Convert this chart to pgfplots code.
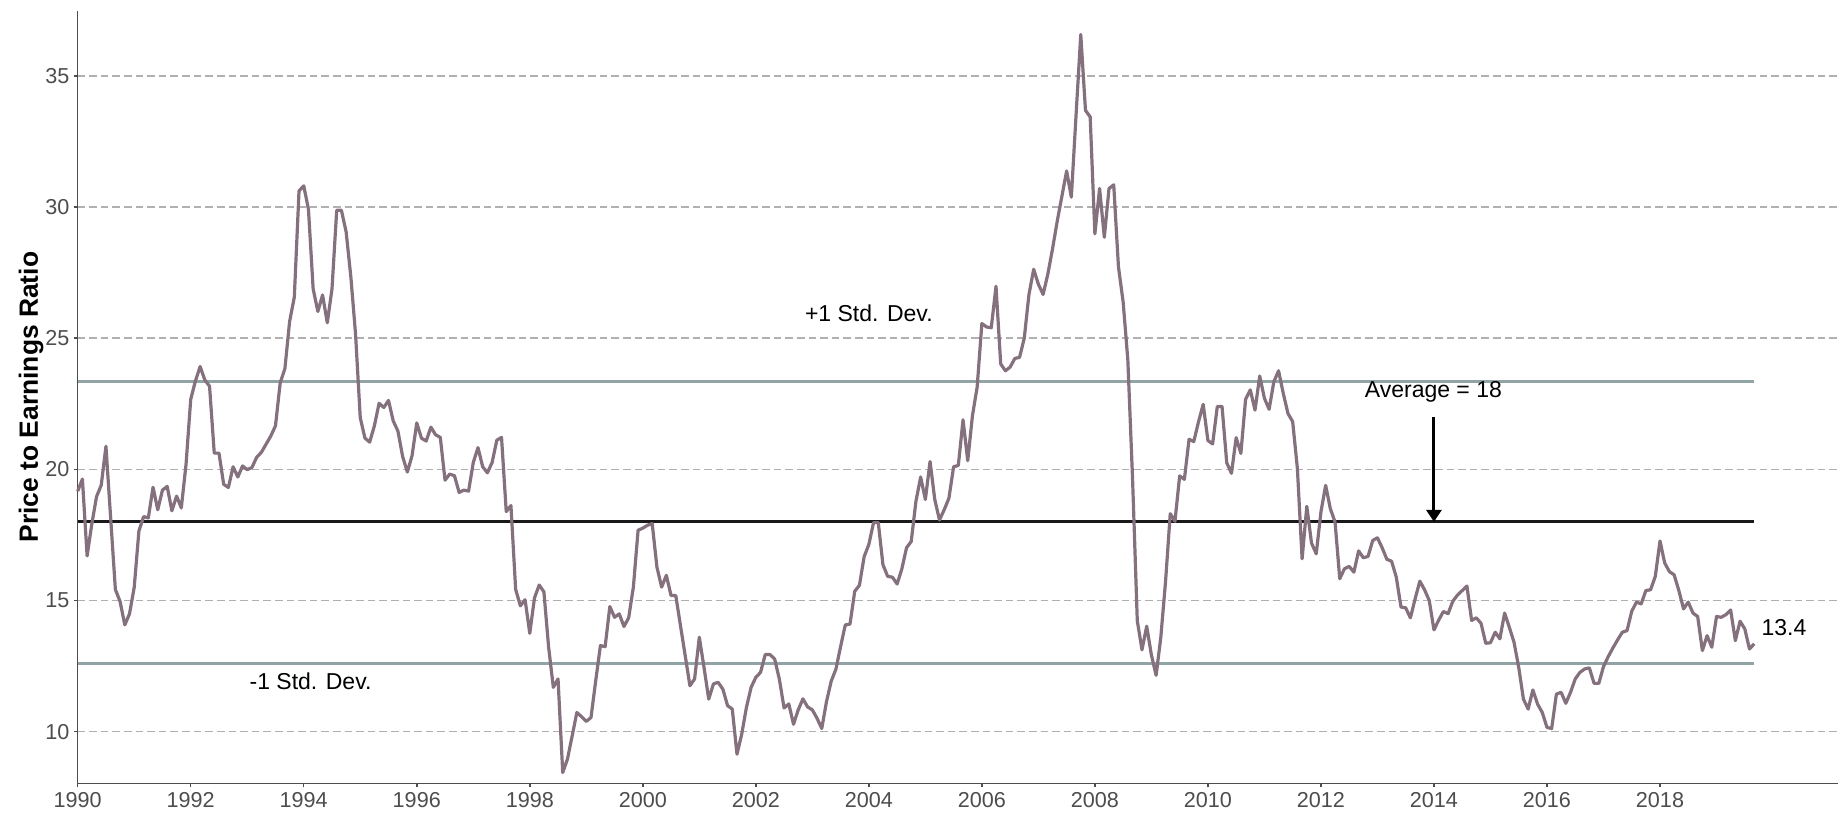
\documentclass[border=0pt]{standalone}
\usepackage{fontspec}
\setmainfont{Liberation Sans}
\usepackage{pgfplots}
\usepackage{pgfplotstable}
\pgfplotsset{compat=1.18}
\usetikzlibrary{arrows.meta}

\definecolor{peline}{HTML}{85707D}
\definecolor{sdline}{HTML}{90A4A6}
\definecolor{gridgrey}{HTML}{B0B0B0}
\definecolor{axisgrey}{HTML}{4D4D4D}

% monthly P/E, m = months since Jan 1990
\pgfplotstableread{
m pe
0 19.17
1 19.63
2 16.70
3 17.92
4 18.96
5 19.40
6 20.88
7 18.15
8 15.42
9 14.96
10 14.07
11 14.49
12 15.50
13 17.65
14 18.20
15 18.15
16 19.32
17 18.46
18 19.21
19 19.35
20 18.42
21 18.98
22 18.53
23 20.18
24 22.67
25 23.37
26 23.92
27 23.41
28 23.17
29 20.62
30 20.62
31 19.43
32 19.31
33 20.10
34 19.71
35 20.13
36 19.99
37 20.07
38 20.46
39 20.65
40 20.96
41 21.27
42 21.66
43 23.30
44 23.84
45 25.64
46 26.57
47 30.62
48 30.81
49 29.92
50 26.88
51 26.02
52 26.65
53 25.59
54 26.88
55 29.88
56 29.88
57 29.06
58 27.35
59 25.17
60 21.97
61 21.19
62 21.04
63 21.66
64 22.52
65 22.36
66 22.63
67 21.85
68 21.46
69 20.49
70 19.90
71 20.52
72 21.77
73 21.19
74 21.08
75 21.61
76 21.32
77 21.22
78 19.59
79 19.82
80 19.76
81 19.12
82 19.21
83 19.17
84 20.26
85 20.83
86 20.10
87 19.87
88 20.26
89 21.11
90 21.22
91 18.39
92 18.62
93 15.42
94 14.80
95 15.03
96 13.75
97 15.10
98 15.59
99 15.33
100 13.22
101 11.69
102 12.01
103 8.44
104 8.95
105 9.84
106 10.73
107 10.57
108 10.39
109 10.54
110 11.94
111 13.28
112 13.24
113 14.77
114 14.36
115 14.49
116 14.01
117 14.34
118 15.51
119 17.68
120 17.76
121 17.87
122 17.93
123 16.27
124 15.51
125 15.96
126 15.19
127 15.19
128 14.04
129 12.90
130 11.75
131 12.01
132 13.60
133 12.45
134 11.24
135 11.82
136 11.88
137 11.62
138 10.99
139 10.86
140 9.14
141 9.90
142 10.92
143 11.69
144 12.07
145 12.26
146 12.94
147 12.94
148 12.77
149 12.00
150 10.90
151 11.06
152 10.28
153 10.83
154 11.25
155 10.94
156 10.83
157 10.51
158 10.12
159 11.14
160 11.92
161 12.38
162 13.24
163 14.07
164 14.10
165 15.35
166 15.58
167 16.67
168 17.14
169 17.97
170 17.97
171 16.36
172 15.92
173 15.89
174 15.63
175 16.20
176 17.01
177 17.25
178 18.78
179 19.71
180 18.85
181 20.30
182 18.85
183 18.07
184 18.46
185 18.90
186 20.10
187 20.15
188 21.89
189 20.33
190 22.05
191 23.14
192 25.56
193 25.43
194 25.40
195 26.98
196 24.02
197 23.76
198 23.90
199 24.23
200 24.27
201 25.00
202 26.67
203 27.63
204 27.06
205 26.67
206 27.44
207 28.40
208 29.46
210 31.38
211 30.38
212 33.50
213 36.58
214 33.69
215 33.44
216 28.98
217 30.71
218 28.85
219 30.71
220 30.85
221 27.73
222 26.38
223 24.17
224 19.65
225 14.23
226 13.12
227 14.02
228 12.92
229 12.15
230 13.60
231 15.71
232 18.31
233 18.02
234 19.75
235 19.62
236 21.15
237 21.06
238 21.81
239 22.48
240 21.10
241 20.97
242 22.40
243 22.40
244 20.25
245 19.85
246 21.21
247 20.61
248 22.67
249 23.03
250 22.26
251 23.56
252 22.71
253 22.29
254 23.34
255 23.76
256 22.90
257 22.13
258 21.82
259 20.03
260 16.59
261 18.59
262 17.19
263 16.78
264 18.38
265 19.39
266 18.50
267 17.99
268 15.83
269 16.21
270 16.30
271 16.08
272 16.89
273 16.63
274 16.68
275 17.29
276 17.39
277 17.01
278 16.57
279 16.50
280 15.89
281 14.75
282 14.72
283 14.34
284 15.06
285 15.74
286 15.41
287 15.00
288 13.88
289 14.25
290 14.58
291 14.50
292 14.97
293 15.21
294 15.38
295 15.55
296 14.24
297 14.34
298 14.13
299 13.37
300 13.39
301 13.79
302 13.54
303 14.52
304 13.98
305 13.41
306 12.45
307 11.24
308 10.86
309 11.59
310 11.05
311 10.73
312 10.16
313 10.12
314 11.43
315 11.50
316 11.08
317 11.50
318 12.01
319 12.26
320 12.39
321 12.43
322 11.84
323 11.84
324 12.48
325 12.86
326 13.19
327 13.50
328 13.79
329 13.85
330 14.59
331 14.94
332 14.87
333 15.38
334 15.41
335 15.92
336 17.27
337 16.43
338 16.10
339 15.98
340 15.38
341 14.68
342 14.94
343 14.52
344 14.39
345 13.09
346 13.66
347 13.22
348 14.39
349 14.36
350 14.46
351 14.64
352 13.47
353 14.21
354 13.92
355 13.15
356 13.35
}\petable

\begin{document}
\begin{tikzpicture}
\begin{axis}[
    scale only axis,
    width=880.15pt, height=386.3pt,
    xmin=1990, xmax=2021.15,
    ymin=8.03, ymax=37.49,
    clip=false,
    axis x line*=bottom, axis y line*=left,
    axis line style={-, draw=axisgrey, line width=0.75pt},
    xtick={1990,1992,...,2018},
    ytick={10,15,...,35},
    tick align=outside,
    major tick length=2pt,
    tick style={draw=axisgrey, line width=0.75pt},
    /pgf/number format/.cd, 1000 sep={}, assume math mode=true,
    /pgfplots/.cd,
    ticklabel style={font=\fontsize{10.8}{12}\selectfont, text=axisgrey, inner sep=0pt},
    yticklabel style={xshift=-1.9pt},
    xticklabel style={yshift=-2.2pt},
    ymajorgrids,
    grid style={gridgrey, line width=0.75pt, dash pattern=on 3.8pt off 2pt},
    ylabel={Price to Earnings Ratio},
    ylabel style={at={(axis description cs:-0.0265,0.5)}, anchor=center, rotate=0,
      font=\fontsize{13.2}{15}\selectfont\bfseries},
]
\addplot[sdline, line width=1.5pt] coordinates {(1990,23.35) (2019.667,23.35)};
\addplot[sdline, line width=1.5pt] coordinates {(1990,12.6) (2019.667,12.6)};
\addplot[black!90, line width=1.5pt] coordinates {(1990,18) (2019.667,18)};
\addplot[peline, line width=1.6pt, line join=round] table[x expr=1990+\thisrow{m}/12, y=pe] {\petable};

\node[font=\fontsize{11.5}{13}\selectfont, anchor=center] at (axis cs:2004.0,25.95) {+1 Std. Dev.};
\node[font=\fontsize{11.5}{13}\selectfont, anchor=center] at (axis cs:1994.12,11.92) {-1 Std. Dev.};
\node[font=\fontsize{11.5}{13}\selectfont, anchor=center] at (axis cs:2013.99,22.96) {Average = 18};
\node[font=\fontsize{11.5}{13}\selectfont, anchor=west, inner sep=0pt] at (axis cs:2019.79,13.97) {13.4};
\draw[-{Triangle[width=7.5pt,length=6pt]}, line width=1.5pt] (axis cs:2014,22.0) -- (axis cs:2014,18.0);
\end{axis}
\pgfresetboundingbox
\path ([xshift=-38.85pt,yshift=-14.85pt]current axis.south west) rectangle ([xshift=1.5pt,yshift=5.35pt]current axis.north east);
\end{tikzpicture}
\end{document}
